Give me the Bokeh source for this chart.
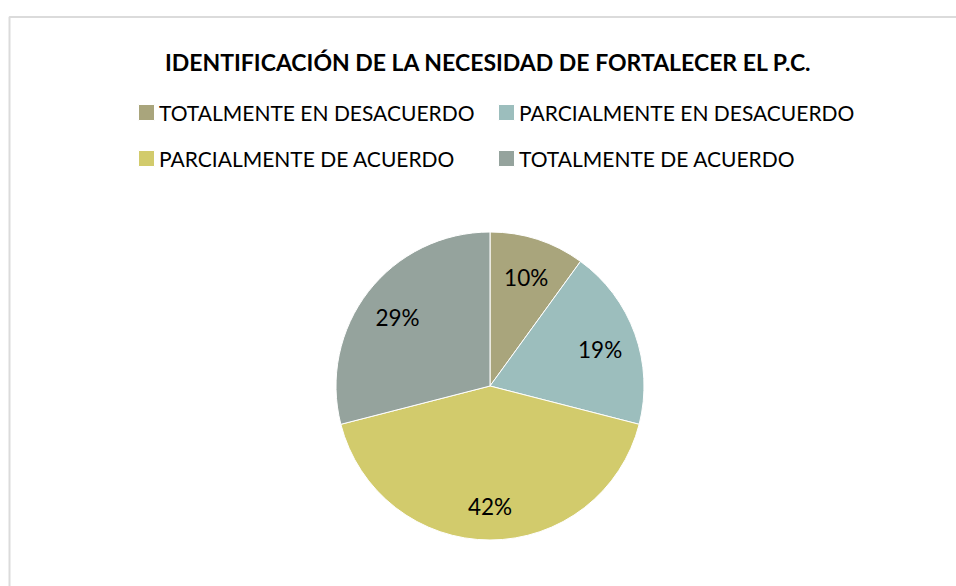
import numpy as np
from bokeh.plotting import figure
from bokeh.models import Range1d, BoxAnnotation, Label, Legend, LegendItem, ColumnDataSource
from bokeh.core.properties import value
from bokeh.embed import file_html
from bokeh.resources import INLINE

# ---- data ----
title_text = "IDENTIFICACIÓN DE LA NECESIDAD DE FORTALECER EL P.C."
categories = ["TOTALMENTE EN DESACUERDO", "PARCIALMENTE EN DESACUERDO",
              "PARCIALMENTE DE ACUERDO", "TOTALMENTE DE ACUERDO"]
percentages = [10, 19, 42, 29]
colors = ["#A9A57C", "#9CBEBD", "#D2CB6C", "#95A39D"]

# ---- layout constants ----
W, H = 956, 586
FONT = "Lato"
cx, cy, R = 489.5, 200.5, 154.0

vals = np.array(percentages, dtype=float)
frac = vals / vals.sum()
cum = np.concatenate([[0.0], np.cumsum(frac)])
start = np.pi / 2 - 2 * np.pi * cum[:-1]
end = np.pi / 2 - 2 * np.pi * cum[1:]
mid = (start + end) / 2
r_lab = 0.76 * R

src = ColumnDataSource(dict(
    cat=categories, start=start, end=end, color=colors,
    lx=cx + r_lab * np.cos(mid), ly=cy + r_lab * np.sin(mid) - 3,
    txt=[f"{v:.0f}%" for v in percentages],
))

p = figure(width=W, height=H, x_range=Range1d(0, W), y_range=Range1d(0, H),
           output_backend="svg", toolbar_location=None, min_border=0)
p.axis.visible = False
p.grid.visible = False
p.outline_line_color = None
p.background_fill_color = "white"

wedges = p.wedge(x=cx, y=cy, radius=R, start_angle="start", end_angle="end",
                 direction="clock", fill_color="color", line_color="white",
                 line_width=1, source=src)

p.text(x="lx", y="ly", text="txt", source=src, text_align="center",
       text_baseline="alphabetic", text_font=value(FONT),
       text_font_size="22.5px", text_color="black")

# chart border: only its left and top edges fall inside the window
p.add_layout(BoxAnnotation(left=9, top=H - 16.5, right=W + 10, bottom=-10,
                           fill_alpha=0, line_color="#878787", line_width=2))

p.add_layout(Label(x=488, y=H - 61.5, text=title_text, text_align="center",
                   text_baseline="alphabetic", text_font=FONT,
                   text_font_style="bold", text_font_size="23px", text_color="black"))

# legend filled row by row: order items so that the grid reads left-to-right
order = [0, 2, 1, 3]
items = [LegendItem(label=categories[i], renderers=[wedges], index=i) for i in order]
legend = Legend(items=items, ncols=2, location=(136.0, 415.5),
                label_text_font=FONT, label_text_font_size="21px",
                label_text_color="black", glyph_width=20, glyph_height=20,
                label_standoff=3, label_width=316, label_height=24,
                spacing=21, padding=0, margin=0,
                border_line_color=None, background_fill_alpha=0)
p.add_layout(legend, "center")

open("out.html", "w").write(file_html(p, INLINE))
